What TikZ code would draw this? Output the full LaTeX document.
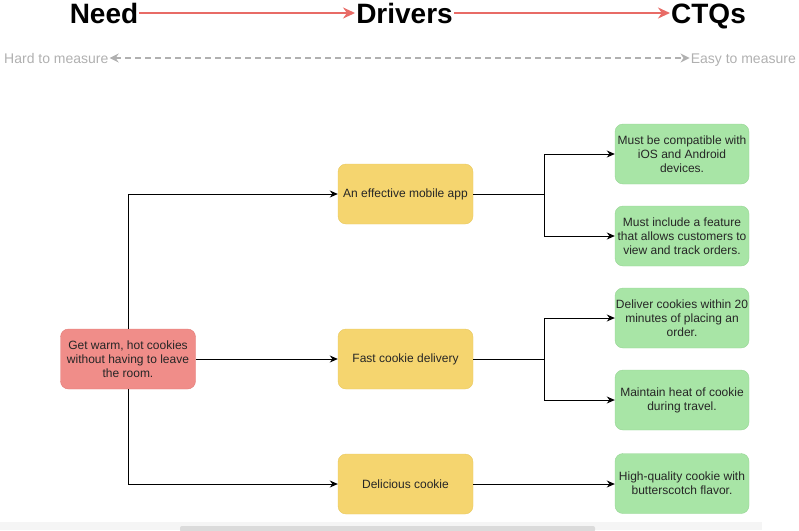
\documentclass[tikz,border=0pt]{standalone}
\usepackage{fontspec}
\setmainfont{Liberation Sans}
\usetikzlibrary{arrows.meta}

\definecolor{needfill}{HTML}{F08D89}
\definecolor{needline}{HTML}{E27C78}
\definecolor{drvfill}{HTML}{F5D56F}
\definecolor{drvline}{HTML}{E8C860}
\definecolor{ctqfill}{HTML}{A8E5A6}
\definecolor{ctqline}{HTML}{96D494}
\definecolor{headred}{HTML}{E86B66}
\definecolor{softgray}{HTML}{B0B0B0}

\tikzset{
  box/.style={rounded corners=8pt, minimum width=135pt, minimum height=60pt,
    align=center, inner sep=0pt, text=black!85,
    font=\fontsize{12}{14}\selectfont},
  needbox/.style={box, fill=needfill, draw=needline},
  drvbox/.style={box, fill=drvfill, draw=drvline},
  ctqbox/.style={box, fill=ctqfill, draw=ctqline, minimum width=134pt},
  headtxt/.style={font=\fontsize{28}{30}\selectfont\bfseries, inner sep=1pt,
    text height=20pt, text depth=0pt},
  scaletxt/.style={font=\fontsize{14}{16}\selectfont, text=softgray, inner sep=1pt,
    text height=10pt, text depth=0pt},
  link/.style={-{Stealth[length=8pt,width=7pt]}, line width=0.9pt},
  headlink/.style={-{Stealth[length=12pt,width=11pt]}, line width=2.6pt, headred},
}

\begin{document}
\begin{tikzpicture}[x=1pt,y=-1pt]
\useasboundingbox (0,0) rectangle (799,530);

% header
\node[headtxt] (need) at (104,13) {Need};
\node[headtxt] (drivers) at (404.5,13) {Drivers};
\node[headtxt] (ctqs) at (708.5,13) {CTQs};
\draw[headlink] (need.east) -- (drivers.west);
\draw[headlink] (drivers.east) -- (ctqs.west);

\node[scaletxt, anchor=west] (hard) at (3,58) {Hard to measure};
\node[scaletxt, anchor=east] (easy) at (797,58) {Easy to measure};
\draw[{Stealth[length=9pt,width=9pt]}-{Stealth[length=9pt,width=9pt]},
  softgray, line width=1.5pt, dash pattern=on 6pt off 4pt] (hard.east) -- (easy.west);

% need
\node[needbox] (want) at (128,359) {Get warm, hot cookies\\ without having to leave\\ the room.};

% drivers
\node[drvbox] (app) at (405.5,194) {An effective mobile app};
\node[drvbox] (fast) at (405.5,359) {Fast cookie delivery};
\node[drvbox] (tasty) at (405.5,484) {Delicious cookie};

% CTQs
\node[ctqbox] (ios) at (682,154) {Must be compatible with\\ iOS and Android\\ devices.};
\node[ctqbox] (track) at (682,236) {Must include a feature\\ that allows customers to\\ view and track orders.};
\node[ctqbox] (twenty) at (682,318) {Deliver cookies within 20\\ minutes of placing an\\ order.};
\node[ctqbox] (heat) at (682,400) {Maintain heat of cookie\\ during travel.};
\node[ctqbox] (flavor) at (682,483.5) {High-quality cookie with\\ butterscotch flavor.};

\draw[link] (want.north) |- (app.west);
\draw[link] (want) -- (fast);
\draw[link] (want.south) |- (tasty.west);

\draw[link] (app.east) -- ++(71,0) |- (ios.west);
\draw[link] (app.east) -- ++(71,0) |- (track.west);
\draw[link] (fast.east) -- ++(71,0) |- (twenty.west);
\draw[link] (fast.east) -- ++(71,0) |- (heat.west);
\draw[link] (tasty.east) -- (flavor.west |- tasty.east);

% scroll bar at the foot
\fill[black!4] (0,522) rectangle (762,530);
\fill[black!14, rounded corners=2pt] (180,526) rectangle (595,532);
\end{tikzpicture}
\end{document}
